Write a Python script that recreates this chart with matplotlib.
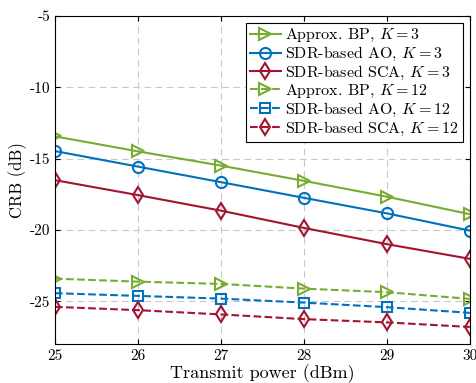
import numpy as np
import matplotlib
matplotlib.use('Agg')
import matplotlib.pyplot as plt
from matplotlib.ticker import FuncFormatter

plt.rcParams['font.family'] = 'serif'
plt.rcParams['font.serif'] = ['cmr10', 'DejaVu Serif']
plt.rcParams['mathtext.fontset'] = 'cm'

power = [25, 26, 27, 28, 29, 30]

bp_k3 = [-13.44, -14.49, -15.49, -16.56, -17.67, -18.9]
ao_k3 = [-14.47, -15.56, -16.65, -17.75, -18.84, -20.05]
sca_k3 = [-16.51, -17.56, -18.65, -19.86, -21.0, -22.03]
bp_k12 = [-23.42, -23.63, -23.79, -24.12, -24.37, -24.84]
ao_k12 = [-24.44, -24.63, -24.82, -25.1, -25.42, -25.82]
sca_k12 = [-25.4, -25.63, -25.93, -26.26, -26.49, -26.81]

green = '#77AC30'
blue = '#0072BD'
red = '#A2142F'

fig = plt.figure(figsize=(4.77, 3.83), dpi=100)
ax = fig.add_axes([0.1153, 0.102, 0.8697, 0.856])

kw = dict(lw=1.5, ms=8, mfc='none', mew=1.5)
ax.plot(power, bp_k3, '-', marker='>', color=green, label=r'Approx. BP, $K=3$', **kw)
ax.plot(power, ao_k3, '-', marker='o', color=blue, label=r'SDR-based AO, $K=3$', **kw)
ax.plot(power, sca_k3, '-', marker='d', color=red, label=r'SDR-based SCA, $K=3$', **kw)
ax.plot(power, bp_k12, '--', marker='>', color=green, label=r'Approx. BP, $K=12$', **kw)
ax.plot(power, ao_k12, '--', marker='s', color=blue, label=r'SDR-based AO, $K=12$', **{**kw, 'ms': 7})
ax.plot(power, sca_k12, '--', marker='d', color=red, label=r'SDR-based SCA, $K=12$', **kw)

ax.set_xlim(25, 30)
ax.set_ylim(-28, -5)
ax.set_xticks(power)
ax.set_yticks([-25, -20, -15, -10, -5])
ax.yaxis.set_major_formatter(FuncFormatter(lambda v, p: '%d' % v))
ax.tick_params(direction='in', top=True, right=True, labelsize=11)
ax.grid(True, ls=(0, (6, 4)), color='#c8c8c8', lw=0.8)
ax.set_xlabel('Transmit power (dBm)', fontsize=13, labelpad=1)
ax.set_ylabel('CRB (dB)', fontsize=12)
ax.yaxis.set_label_coords(-0.068, 0.5)

leg = ax.legend(loc='upper right', fontsize=11.5, fancybox=False, edgecolor='black',
                framealpha=1, handlelength=1.9, handletextpad=0.3, borderpad=0.25,
                labelspacing=0.05, borderaxespad=0.45)
leg.get_frame().set_linewidth(0.8)

fig.savefig('out.png', dpi=100)
